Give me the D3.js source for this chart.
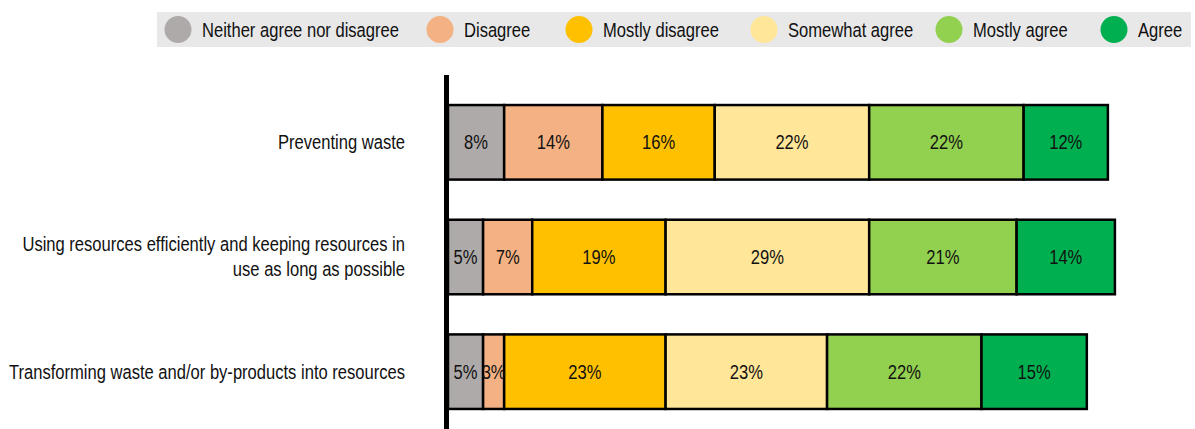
<!DOCTYPE html>
<html>
<head>
<meta charset="utf-8">
<script src="https://cdn.jsdelivr.net/npm/d3@7"></script>
<style>
  html, body { margin: 0; padding: 0; background: #fff; }
  svg { display: block; }
  text { font-family: "Liberation Sans Narrow", "Arial Narrow", "Liberation Sans", Arial, sans-serif; fill: #111; }
</style>
</head>
<body>
<svg id="chart" width="1195" height="429"></svg>
<script>
// Survey statements (rows, top to bottom)
const statements = [
  "Preventing waste",
  "Using resources efficiently and keeping resources in|use as long as possible",
  "Transforming waste and/or by-products into resources"
];

// Response categories, stacked left to right
const responses = ["Neither agree nor disagree", "Disagree", "Mostly disagree", "Somewhat agree", "Mostly agree", "Agree"];
const responseColors = ["#AEAAAA", "#F4B183", "#FFC000", "#FFE699", "#92D050", "#00B050"];

// Share of respondents (%) per statement, in the order of `responses`
const preventingWaste = [8, 14, 16, 22, 22, 12];
const usingEfficiently = [5, 7, 19, 29, 21, 14];
const transformingWaste = [5, 3, 23, 23, 22, 15];
const shares = [preventingWaste, usingEfficiently, transformingWaste];

const FONT_SIZE = 19.5;
const NARROW = 0.85; // horizontal condensing for a narrow sans look

const svg = d3.select("#chart");

// Condensed text placed at (px, py)
function label(parent, px, py, str, anchor) {
  return parent.append("text")
    .attr("transform", `translate(${px},${py}) scale(${NARROW},1)`)
    .attr("dy", "0.35em")
    .attr("text-anchor", anchor || "start")
    .attr("font-size", FONT_SIZE)
    .text(str);
}

// Legend strip
const legendCx = [178, 440, 579, 764, 949, 1114];
const legend = svg.append("g");
legend.append("rect")
  .attr("x", 157).attr("y", 12).attr("width", 1034).attr("height", 35)
  .attr("fill", "#E8E8E8");
responses.forEach((r, i) => {
  legend.append("circle")
    .attr("cx", legendCx[i]).attr("cy", 29.5).attr("r", 13.5)
    .attr("fill", responseColors[i]);
  label(legend, legendCx[i] + 24, 30, r);
});

// Scales
const x = d3.scaleLinear().domain([0, 100]).range([448, 1150]);
const y = d3.scaleBand().domain(d3.range(statements.length))
  .range([93, 421]).paddingInner(0.35).paddingOuter(0.105);

// Stacked segments
const rows = svg.append("g").selectAll("g")
  .data(shares)
  .join("g");

rows.each(function(vals, ri) {
  const g = d3.select(this);
  const starts = d3.cumsum([0, ...vals]);
  vals.forEach((v, ci) => {
    g.append("rect")
      .attr("x", x(starts[ci]))
      .attr("y", y(ri))
      .attr("width", x(starts[ci] + v) - x(starts[ci]))
      .attr("height", y.bandwidth())
      .attr("fill", responseColors[ci])
      .attr("stroke", "#000")
      .attr("stroke-width", 2.5);
  });
  vals.forEach((v, ci) => {
    label(g, (x(starts[ci]) + x(starts[ci] + v)) / 2, y(ri) + y.bandwidth() / 2, v + "%", "middle");
  });
});

// Statement labels, right-aligned against the axis
statements.forEach((s, i) => {
  const lines = s.split("|");
  const cy = y(i) + y.bandwidth() / 2;
  const lh = 25;
  lines.forEach((line, li) => {
    label(svg, 405, cy + (li - (lines.length - 1) / 2) * lh, line, "end");
  });
});

// Vertical baseline
svg.append("line")
  .attr("x1", 446.5).attr("x2", 446.5)
  .attr("y1", 75).attr("y2", 429)
  .attr("stroke", "#000").attr("stroke-width", 5);
</script>
</body>
</html>
